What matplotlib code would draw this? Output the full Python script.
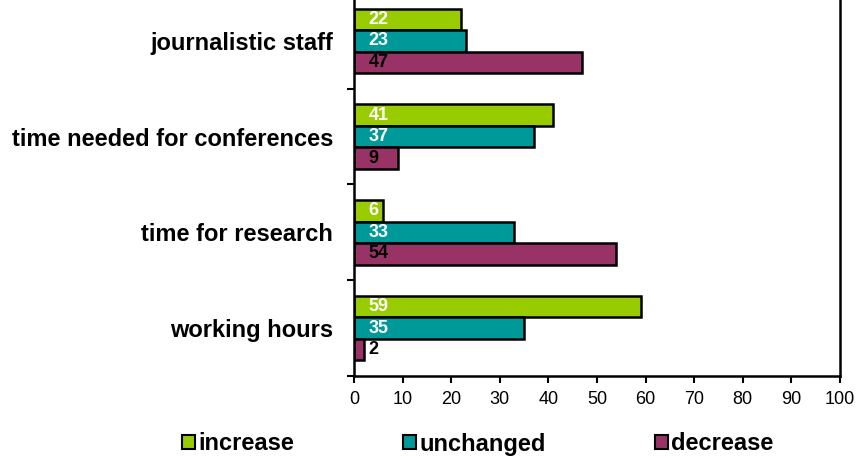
import matplotlib
matplotlib.use("Agg")
from matplotlib import pyplot as plt
from matplotlib.patches import Patch
import numpy as np

plt.rcParams['font.family'] = ['Liberation Sans', 'DejaVu Sans']

# categories from bottom to top
categories = ['working hours', 'time for research',
              'time needed for conferences', 'journalistic staff']
increase = [59, 6, 41, 22]
unchanged = [35, 33, 37, 23]
decrease = [2, 54, 9, 47]

series = [('increase', increase, '#99CC00', 'white'),
          ('unchanged', unchanged, '#009999', 'white'),
          ('decrease', decrease, '#993366', 'black')]

fig = plt.figure(figsize=(8.56, 4.58), dpi=100)
ax = fig.add_axes([354/856, 1 - 376/458, (840 - 354)/856, (376 + 7)/458])

y = np.arange(len(categories))
h = 0.225
offsets = [h, 0, -h]

for (name, vals, col, tcol), off in zip(series, offsets):
    ax.barh(y + off, vals, height=h, color=col, edgecolor='black', linewidth=1.8)
    for yi, v in zip(y, vals):
        ax.text(3.0, yi + off, str(v), ha='left', va='center', fontsize=13,
                fontweight='bold', color=tcol)

ax.set_xlim(0, 100)
ax.set_ylim(-0.5, len(categories) - 0.5)
ax.set_xticks(range(0, 101, 10))
ax.tick_params(axis='x', labelsize=13, length=5, width=1.5, pad=6)

ax.set_yticks(y)
ax.set_yticklabels(categories, fontsize=17, fontweight='bold')
ax.tick_params(axis='y', length=0, pad=15)
ax.set_yticks(np.arange(-0.5, len(categories), 1), minor=True)
ax.tick_params(axis='y', which='minor', length=5, width=1.5)

for s in ax.spines.values():
    s.set_linewidth(1.8)

handles = [Patch(facecolor=c, edgecolor='black', linewidth=1.5, label=n)
           for n, _, c, _ in series]
leg = fig.legend(handles=handles, loc='center', bbox_to_anchor=(478/856, 1 - 444/458),
                 ncol=3, frameon=False, handlelength=0.55, handleheight=0.55,
                 handletextpad=0.15, columnspacing=4.6,
                 prop={'size': 17, 'weight': 'bold'})

fig.savefig('out.png', dpi=100)
